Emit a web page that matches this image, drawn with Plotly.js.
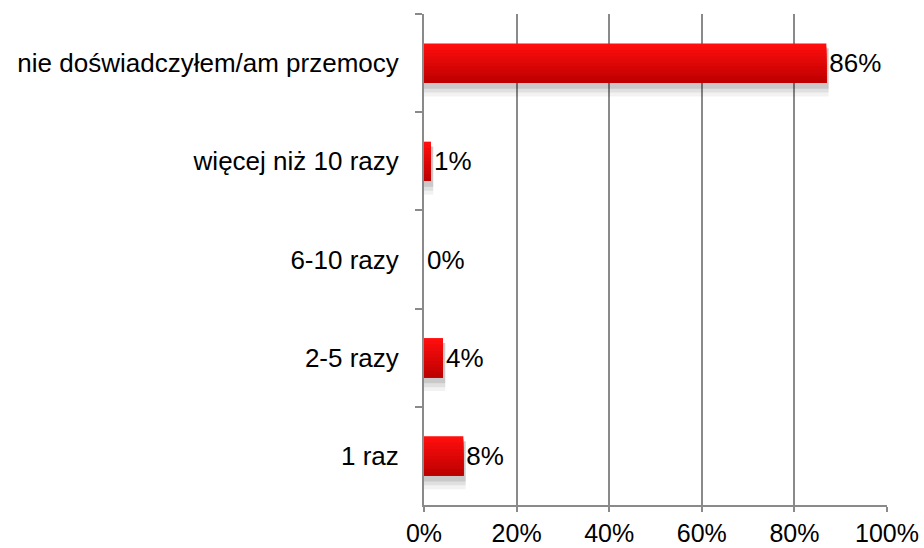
<!DOCTYPE html>
<html>
<head>
<meta charset="utf-8">
<script src="https://cdn.plot.ly/plotly-3.0.1.min.js"></script>
<style>html,body{margin:0;padding:0;background:#fff}#chart{width:924px;height:548px}</style>
</head>
<body>
<div id="chart"></div>
<script>
const categories = ["nie doświadczyłem/am przemocy", "więcej niż 10 razy", "6-10 razy", "2-5 razy", "1 raz"];
const values = [86.9, 1.5, 0, 4.1, 8.5];
const labels = ["86%", "1%", "0%", "4%", "8%"];
const xTickVals = [0, 20, 40, 60, 80, 100];
const xTickText = ["0%", "20%", "40%", "60%", "80%", "100%"];

const font = {family: "Liberation Sans, Arial, sans-serif", size: 26, color: "#000"};
const tickFontX = {family: "Liberation Sans, Arial, sans-serif", size: 25, color: "#000"};

const traces = [];
// soft shadow beneath bars (nested, each covering from bar top to a lower edge)
[[0.34, 0.05], [0.30, 0.07], [0.26, 0.10]].forEach(([bottom, a]) => {
  traces.push({type: "bar", orientation: "h", y: categories, x: values.map(v => v > 0 ? v + 0.5 : 0),
    offset: -0.15, width: bottom + 0.15, marker: {color: `rgba(0,0,0,${a})`, line: {width: 0}}, hoverinfo: "none"});
});
// vertical gradient: nested strips from top to bar bottom, no seams
const nStrips = 12, colTop = [255, 14, 14], colBot = [190, 0, 0];
for (let i = 0; i < nStrips; i++) {
  const t = i / (nStrips - 1);
  const c = colTop.map((v, k) => Math.round(v + (colBot[k] - v) * t));
  const off = -0.2 + i * 0.4 / nStrips;
  traces.push({type: "bar", orientation: "h", y: categories, x: values,
    offset: off, width: 0.2 - off,
    marker: {color: `rgb(${c.join(",")})`, line: {width: 0}}, hoverinfo: "none"});
}
// labels
traces.push({type: "bar", orientation: "h", y: categories, x: values, width: 0.4,
  text: labels, textposition: "outside", textfont: font, constraintext: "none", cliponaxis: false,
  marker: {color: "rgba(0,0,0,0)", line: {width: 0}}, hoverinfo: "none"});

Plotly.newPlot("chart", traces, {
  width: 924, height: 548,
  margin: {l: 424, r: 37, t: 14, b: 43, pad: 0},
  paper_bgcolor: "#fff", plot_bgcolor: "#fff",
  font: font, barmode: "overlay",
  showlegend: false,
  xaxis: {
    range: [0, 100], tickvals: xTickVals, ticktext: xTickText,
    showgrid: true, gridcolor: "#8a8a8a", gridwidth: 2,
    showline: true, linecolor: "#8a8a8a", linewidth: 2,
    ticks: "outside", ticklen: 5, tickwidth: 2, tickcolor: "#8a8a8a",
    zeroline: false, fixedrange: true, tickfont: tickFontX
  },
  yaxis: {
    type: "category", autorange: "reversed",
    showgrid: false, showline: true, linecolor: "#8a8a8a", linewidth: 2,
    ticks: "outside", tickson: "boundaries", ticklen: 7, tickwidth: 2, tickcolor: "#8a8a8a",
    ticklabelstandoff: 18, tickfont: font, fixedrange: true
  }
}, {displayModeBar: false, staticPlot: true});
</script>
</body>
</html>
